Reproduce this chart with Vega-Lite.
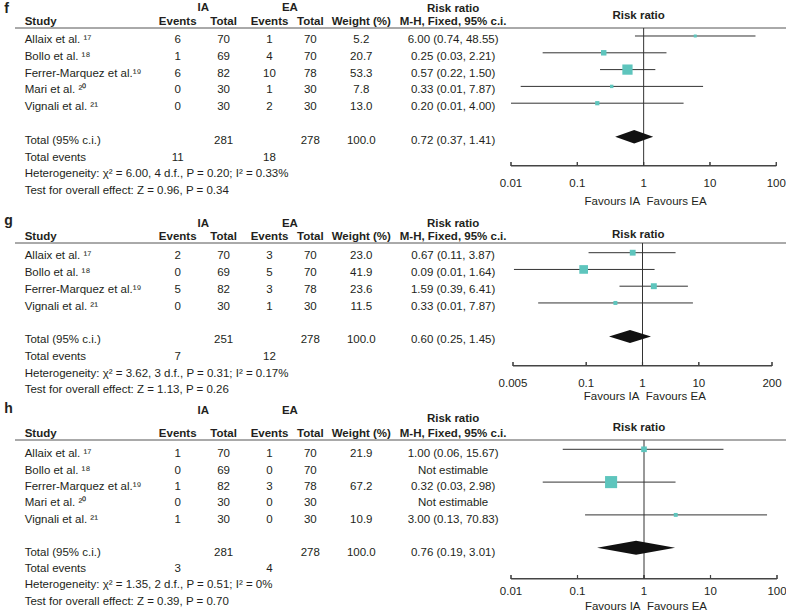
{
"$schema": "https://vega.github.io/schema/vega-lite/v6.json",
"padding": {"left": 2, "top": 1, "right": 0, "bottom": 0},
"background": "white",
"config": {
  "view": {"stroke": null},
  "font": "Liberation Sans",
  "text": {"font": "Liberation Sans", "fontSize": 11.5, "color": "#231f20", "baseline": "middle"}
},
"datasets": {
  "fT": [
    {"r":1,"study":"Allaix et al. ¹⁷","iae":"6","iat":"70","eae":"1","eat":"70","w":"5.2","rr":"6.00 (0.74, 48.55)"},
    {"r":2,"study":"Bollo et al. ¹⁸","iae":"1","iat":"69","eae":"4","eat":"70","w":"20.7","rr":"0.25 (0.03, 2.21)"},
    {"r":3,"study":"Ferrer-Marquez et al.¹⁹","iae":"6","iat":"82","eae":"10","eat":"78","w":"53.3","rr":"0.57 (0.22, 1.50)"},
    {"r":4,"study":"Mari et al. ²⁰","iae":"0","iat":"30","eae":"1","eat":"30","w":"7.8","rr":"0.33 (0.01, 7.87)"},
    {"r":5,"study":"Vignali et al. ²¹","iae":"0","iat":"30","eae":"2","eat":"30","w":"13.0","rr":"0.20 (0.01, 4.00)"},
    {"r":7,"study":"Total (95% c.i.)","iat":"281","eat":"278","w":"100.0","rr":"0.72 (0.37, 1.41)"},
    {"r":8,"study":"Total events","iae":"11","eae":"18"},
    {"r":9,"study":"Heterogeneity: χ² = 6.00, 4 d.f., P = 0.20; I² = 0.33%"},
    {"r":10,"study":"Test for overall effect: Z = 0.96, P = 0.34"}
  ],
  "gT": [
    {"r":1,"study":"Allaix et al. ¹⁷","iae":"2","iat":"70","eae":"3","eat":"70","w":"23.0","rr":"0.67 (0.11, 3.87)"},
    {"r":2,"study":"Bollo et al. ¹⁸","iae":"0","iat":"69","eae":"5","eat":"70","w":"41.9","rr":"0.09 (0.01, 1.64)"},
    {"r":3,"study":"Ferrer-Marquez et al.¹⁹","iae":"5","iat":"82","eae":"3","eat":"78","w":"23.6","rr":"1.59 (0.39, 6.41)"},
    {"r":4,"study":"Vignali et al. ²¹","iae":"0","iat":"30","eae":"1","eat":"30","w":"11.5","rr":"0.33 (0.01, 7.87)"},
    {"r":6,"study":"Total (95% c.i.)","iat":"251","eat":"278","w":"100.0","rr":"0.60 (0.25, 1.45)"},
    {"r":7,"study":"Total events","iae":"7","eae":"12"},
    {"r":8,"study":"Heterogeneity: χ² = 3.62, 3 d.f., P = 0.31; I² = 0.17%"},
    {"r":9,"study":"Test for overall effect: Z = 1.13, P = 0.26"}
  ],
  "hT": [
    {"r":1,"study":"Allaix et al. ¹⁷","iae":"1","iat":"70","eae":"1","eat":"70","w":"21.9","rr":"1.00 (0.06, 15.67)"},
    {"r":2,"study":"Bollo et al. ¹⁸","iae":"0","iat":"69","eae":"0","eat":"70","rr":"Not estimable"},
    {"r":3,"study":"Ferrer-Marquez et al.¹⁹","iae":"1","iat":"82","eae":"3","eat":"78","w":"67.2","rr":"0.32 (0.03, 2.98)"},
    {"r":4,"study":"Mari et al. ²⁰","iae":"0","iat":"30","eae":"0","eat":"30","rr":"Not estimable"},
    {"r":5,"study":"Vignali et al. ²¹","iae":"1","iat":"30","eae":"0","eat":"30","w":"10.9","rr":"3.00 (0.13, 70.83)"},
    {"r":7,"study":"Total (95% c.i.)","iat":"281","eat":"278","w":"100.0","rr":"0.76 (0.19, 3.01)"},
    {"r":8,"study":"Total events","iae":"3","eae":"4"},
    {"r":9,"study":"Heterogeneity: χ² = 1.35, 2 d.f., P = 0.51; I² = 0%"},
    {"r":10,"study":"Test for overall effect: Z = 0.39, P = 0.70"}
  ],
  "fF": [
    {"r":1,"est":6.0,"lo":0.74,"hi":48.55,"w":5.2},
    {"r":2,"est":0.25,"lo":0.03,"hi":2.21,"w":20.7},
    {"r":3,"est":0.57,"lo":0.22,"hi":1.5,"w":53.3},
    {"r":4,"est":0.33,"lo":0.014,"hi":7.87,"w":7.8},
    {"r":5,"est":0.2,"lo":0.01,"hi":4.0,"w":13.0}
  ],
  "gF": [
    {"r":1,"est":0.67,"lo":0.11,"hi":3.87,"w":23.0},
    {"r":2,"est":0.09,"lo":0.0052,"hi":1.64,"w":41.9},
    {"r":3,"est":1.59,"lo":0.39,"hi":6.41,"w":23.6},
    {"r":4,"est":0.33,"lo":0.014,"hi":7.87,"w":11.5}
  ],
  "hF": [
    {"r":1,"est":1.0,"lo":0.06,"hi":15.67,"w":21.9},
    {"r":3,"est":0.32,"lo":0.03,"hi":2.98,"w":67.2},
    {"r":5,"est":3.0,"lo":0.13,"hi":70.83,"w":10.9}
  ],
  "ticksA": [{"v":0.01},{"v":0.1},{"v":1},{"v":10},{"v":100}],
  "ticksB": [{"v":0.005},{"v":0.1},{"v":1},{"v":10},{"v":200}],
  "hdrStudy": [{"r":0,"col":"study","t":"Study"}],
  "hdrSub": [
    {"r":0,"col":"iae","t":"Events"},{"r":0,"col":"iat","t":"Total"},
    {"r":0,"col":"eae","t":"Events"},{"r":0,"col":"eat","t":"Total"},
    {"r":0,"col":"w","t":"Weight (%)"},{"r":0,"col":"rr","t":"M-H, Fixed, 95% c.i."}
  ],
  "hdrIA": [{"r":-1,"col":"ia","t":"IA"},{"r":-1,"col":"ea","t":"EA"}],
  "hdrRR": [{"r":-1,"col":"rr","t":"Risk ratio"}]
},
"spacing": 77,
"bounds": "flush",
"vconcat": [
{
  "width": 786, "height": 138,
  "resolve": {"scale": {"x": "independent"}},
  "layer": [
    {"data": {"values": [{}]}, "mark": {"type": "rule", "color": "#555555", "strokeWidth": 1},
     "encoding": {"x": {"datum": 0, "type": "quantitative", "scale": {"domain": [0, 1], "range": [13, 785], "nice": false, "zero": false}, "axis": null}, "x2": {"datum": 1},
       "y": {"datum": 0.524, "type": "quantitative", "scale": {"domain": [0.524, 8.738], "reverse": true, "nice": false, "zero": false}, "axis": null}}},
    {"layer": [
      {"data": {"name": "fT"}, "transform": [{"fold": ["study"], "as": ["col", "t"]}, {"filter": "isValid(datum.t)"}],
       "mark": {"type": "text", "align": "left", "dy": 4},
       "encoding": {"x": {"field": "col", "type": "nominal", "scale": {"type": "point", "padding": 0, "range": [2.3, 451.1], "domain": ["L","k-3","k-2","k-1","study","k1","k2","k3","k4","k5","k6","k7","k8","k9","k10","k11","k12","k13","k14","k15","k16","k17","k18","k19","k20","k21","k22","k23","k24","k25","k26","k27","k28","k29","iae","k31","k32","k33","k34","ia","k36","k37","k38","iat","k40","k41","k42","k43","k44","k45","k46","k47","eae","k49","k50","k51","ea","k53","k54","k55","eat","k57","k58","k59","k60","k61","k62","k63","k64","k65","w","k67","k68","k69","k70","k71","k72","k73","k74","k75","k76","k77","k78","k79","k80","k81","k82","k83","rr"]}, "axis": null},
         "y": {"field": "r", "type": "quantitative", "scale": {"domain": [0.524, 8.738], "reverse": true, "nice": false, "zero": false}, "axis": null}, "text": {"field": "t"}}},
      {"data": {"name": "fT"}, "transform": [{"fold": ["iae","iat","eae","eat","w","rr"], "as": ["col", "t"]}, {"filter": "isValid(datum.t)"}],
       "mark": {"type": "text", "align": "center", "dy": 4},
       "encoding": {"x": {"field": "col", "type": "nominal", "scale": {"type": "point", "padding": 0, "range": [2.3, 451.1]}, "axis": null}, "y": {"field": "r", "type": "quantitative", "axis": null}, "text": {"field": "t"}}},
      {"data": {"name": "hdrStudy"}, "mark": {"type": "text", "align": "left", "fontWeight": "bold", "dy": 2.8},
       "encoding": {"x": {"field": "col", "type": "nominal", "scale": {"type": "point", "padding": 0, "range": [2.3, 451.1]}, "axis": null}, "y": {"field": "r", "type": "quantitative", "axis": null}, "text": {"field": "t"}}},
      {"data": {"name": "hdrSub"}, "mark": {"type": "text", "align": "center", "fontWeight": "bold", "dy": 2.8},
       "encoding": {"x": {"field": "col", "type": "nominal", "scale": {"type": "point", "padding": 0, "range": [2.3, 451.1]}, "axis": null}, "y": {"field": "r", "type": "quantitative", "axis": null}, "text": {"field": "t"}}},
      {"data": {"name": "hdrIA"}, "mark": {"type": "text", "align": "center", "fontWeight": "bold", "dy": 5.6},
       "encoding": {"x": {"field": "col", "type": "nominal", "scale": {"type": "point", "padding": 0, "range": [2.3, 451.1]}, "axis": null}, "y": {"field": "r", "type": "quantitative", "axis": null}, "text": {"field": "t"}}},
      {"data": {"name": "hdrRR"}, "mark": {"type": "text", "align": "center", "fontWeight": "bold", "dy": 6.3},
       "encoding": {"x": {"field": "col", "type": "nominal", "scale": {"type": "point", "padding": 0, "range": [2.3, 451.1]}, "axis": null}, "y": {"field": "r", "type": "quantitative", "axis": null}, "text": {"field": "t"}}},
      {"data": {"values": [{"r": -1, "col": "L", "t": "f"}]}, "mark": {"type": "text", "align": "left", "fontWeight": "bold", "fontSize": 14, "dy": 6.5},
       "encoding": {"x": {"field": "col", "type": "nominal", "scale": {"type": "point", "padding": 0, "range": [2.3, 451.1]}, "axis": null}, "y": {"field": "r", "type": "quantitative", "axis": null}, "text": {"field": "t"}}}
    ]},
    {"data": {"values": [{}]}, "mark": {"type": "rule", "color": "#444444", "strokeWidth": 1.2},
     "encoding": {"x": {"datum": 0, "type": "quantitative", "scale": {"domain": [0, 1], "range": [509, 774.3], "nice": false, "zero": false}, "axis": null}, "x2": {"datum": 1},
       "y": {"datum": 8.738, "type": "quantitative", "axis": null}}},
    {"data": {"values": [{}]}, "mark": {"type": "rect", "color": "#444444", "opacity": 1},
     "encoding": {"x": {"datum": 0, "type": "quantitative", "scale": {"domain": [0, 1], "range": [509, 774.3], "nice": false, "zero": false}, "axis": null}, "x2": {"datum": 1},
       "y": {"datum": 8.738, "type": "quantitative", "axis": null}, "y2": {"datum": 8.68}}},
    {"data": {"name": "ticksA"}, "mark": {"type": "rule", "color": "#444444", "strokeWidth": 1.2},
     "encoding": {"x": {"field": "v", "type": "quantitative", "scale": {"type": "log", "domain": [0.01, 100], "range": [509, 774.3], "nice": false, "zero": false}, "axis": null},
       "y": {"datum": 8.738, "type": "quantitative", "axis": null}, "y2": {"datum": 8.5}}},
    {"data": {"name": "ticksA"}, "mark": {"type": "tick", "orient": "vertical", "color": "#444444", "opacity": 1, "size": 4, "thickness": 1},
     "encoding": {"x": {"field": "v", "type": "quantitative", "scale": {"type": "log", "domain": [0.01, 100], "range": [509, 774.3], "nice": false, "zero": false}, "axis": null},
       "y": {"datum": 8.619, "type": "quantitative", "axis": null}}},
    {"data": {"name": "ticksA"}, "mark": {"type": "text", "align": "center"},
     "encoding": {"x": {"field": "v", "type": "quantitative", "scale": {"type": "log", "domain": [0.01, 100], "range": [509, 774.3], "nice": false, "zero": false}, "axis": null},
       "y": {"datum": 9.792, "type": "quantitative", "axis": null}, "text": {"field": "v", "type": "quantitative", "format": "~g"}}},
    {"data": {"values": [{}]}, "mark": {"type": "text", "text": "Favours IA\u00a0\u00a0Favours EA", "align": "center"},
     "encoding": {"x": {"datum": 1.07, "type": "quantitative", "scale": {"type": "log", "domain": [0.01, 100], "range": [509, 774.3], "nice": false, "zero": false}, "axis": null},
       "y": {"datum": 10.881, "type": "quantitative", "axis": null}}},
    {"data": {"values": [{}]}, "mark": {"type": "rule", "color": "#333333", "strokeWidth": 1},
     "encoding": {"x": {"datum": 1, "type": "quantitative", "scale": {"type": "log", "domain": [0.01, 100], "range": [509, 774.3], "nice": false, "zero": false}, "axis": null},
       "y": {"datum": 0.524, "type": "quantitative", "axis": null}, "y2": {"datum": 8.738}}},
    {"data": {"name": "fF"}, "mark": {"type": "rule", "color": "#333333", "strokeWidth": 1},
     "encoding": {"x": {"field": "lo", "type": "quantitative", "scale": {"type": "log", "domain": [0.01, 100], "range": [509, 774.3], "nice": false, "zero": false}, "axis": null},
       "x2": {"field": "hi"}, "y": {"field": "r", "type": "quantitative", "axis": null}}},
    {"data": {"name": "fF"}, "mark": {"type": "point", "shape": "square", "filled": true, "color": "#5ec5bd", "opacity": 1, "strokeWidth": 0},
     "encoding": {"x": {"field": "est", "type": "quantitative", "scale": {"type": "log", "domain": [0.01, 100], "range": [509, 774.3], "nice": false, "zero": false}, "axis": null},
       "y": {"field": "r", "type": "quantitative", "axis": null},
       "size": {"field": "w", "type": "quantitative", "scale": {"type": "pow", "exponent": 1.5, "domain": [0, 100], "range": [6, 260]}, "legend": null}}},
    {"data": {"values": [{"r": 7, "est": 0.72}]}, "mark": {"type": "point", "shape": "M-1,0L0,-0.353L1,0L0,0.353Z", "filled": true, "color": "#111111", "opacity": 1, "size": 1444, "strokeWidth": 0},
     "encoding": {"x": {"field": "est", "type": "quantitative", "scale": {"type": "log", "domain": [0.01, 100], "range": [509, 774.3], "nice": false, "zero": false}, "axis": null},
       "y": {"field": "r", "type": "quantitative", "axis": null}}},
    {"data": {"values": [{}]}, "mark": {"type": "text", "text": "Risk ratio", "fontWeight": "bold", "align": "center", "dy": 1},
     "encoding": {"x": {"datum": 0.84, "type": "quantitative", "scale": {"type": "log", "domain": [0.01, 100], "range": [509, 774.3], "nice": false, "zero": false}, "axis": null},
       "y": {"datum": -0.25, "type": "quantitative", "axis": null}}}
  ]
},
{
  "width": 786, "height": 120,
  "resolve": {"scale": {"x": "independent"}},
  "layer": [
    {"data": {"values": [{}]}, "mark": {"type": "rule", "color": "#555555", "strokeWidth": 1},
     "encoding": {"x": {"datum": 0, "type": "quantitative", "scale": {"domain": [0, 1], "range": [13, 785], "nice": false, "zero": false}, "axis": null}, "x2": {"datum": 1},
       "y": {"datum": 0.421, "type": "quantitative", "scale": {"domain": [0.421, 7.585], "reverse": true, "nice": false, "zero": false}, "axis": null}}},
    {"layer": [
      {"data": {"name": "gT"}, "transform": [{"fold": ["study"], "as": ["col", "t"]}, {"filter": "isValid(datum.t)"}],
       "mark": {"type": "text", "align": "left", "dy": 3.6},
       "encoding": {"x": {"field": "col", "type": "nominal", "scale": {"type": "point", "padding": 0, "range": [2.3, 451.1], "domain": ["L","k-3","k-2","k-1","study","k1","k2","k3","k4","k5","k6","k7","k8","k9","k10","k11","k12","k13","k14","k15","k16","k17","k18","k19","k20","k21","k22","k23","k24","k25","k26","k27","k28","k29","iae","k31","k32","k33","k34","ia","k36","k37","k38","iat","k40","k41","k42","k43","k44","k45","k46","k47","eae","k49","k50","k51","ea","k53","k54","k55","eat","k57","k58","k59","k60","k61","k62","k63","k64","k65","w","k67","k68","k69","k70","k71","k72","k73","k74","k75","k76","k77","k78","k79","k80","k81","k82","k83","rr"]}, "axis": null},
         "y": {"field": "r", "type": "quantitative", "scale": {"domain": [0.421, 7.585], "reverse": true, "nice": false, "zero": false}, "axis": null}, "text": {"field": "t"}}},
      {"data": {"name": "gT"}, "transform": [{"fold": ["iae","iat","eae","eat","w","rr"], "as": ["col", "t"]}, {"filter": "isValid(datum.t)"}],
       "mark": {"type": "text", "align": "center", "dy": 3.6},
       "encoding": {"x": {"field": "col", "type": "nominal", "scale": {"type": "point", "padding": 0, "range": [2.3, 451.1]}, "axis": null}, "y": {"field": "r", "type": "quantitative", "axis": null}, "text": {"field": "t"}}},
      {"data": {"name": "hdrStudy"}, "mark": {"type": "text", "align": "left", "fontWeight": "bold", "dy": 1},
       "encoding": {"x": {"field": "col", "type": "nominal", "scale": {"type": "point", "padding": 0, "range": [2.3, 451.1]}, "axis": null}, "y": {"field": "r", "type": "quantitative", "axis": null}, "text": {"field": "t"}}},
      {"data": {"name": "hdrSub"}, "mark": {"type": "text", "align": "center", "fontWeight": "bold", "dy": 1},
       "encoding": {"x": {"field": "col", "type": "nominal", "scale": {"type": "point", "padding": 0, "range": [2.3, 451.1]}, "axis": null}, "y": {"field": "r", "type": "quantitative", "axis": null}, "text": {"field": "t"}}},
      {"data": {"name": "hdrIA"}, "mark": {"type": "text", "align": "center", "fontWeight": "bold", "dy": 4.5},
       "encoding": {"x": {"field": "col", "type": "nominal", "scale": {"type": "point", "padding": 0, "range": [2.3, 451.1]}, "axis": null}, "y": {"field": "r", "type": "quantitative", "axis": null}, "text": {"field": "t"}}},
      {"data": {"name": "hdrRR"}, "mark": {"type": "text", "align": "center", "fontWeight": "bold", "dy": 4.5},
       "encoding": {"x": {"field": "col", "type": "nominal", "scale": {"type": "point", "padding": 0, "range": [2.3, 451.1]}, "axis": null}, "y": {"field": "r", "type": "quantitative", "axis": null}, "text": {"field": "t"}}},
      {"data": {"values": [{"r": -1, "col": "L", "t": "g"}]}, "mark": {"type": "text", "align": "left", "fontWeight": "bold", "fontSize": 14, "dy": 1.8},
       "encoding": {"x": {"field": "col", "type": "nominal", "scale": {"type": "point", "padding": 0, "range": [2.3, 451.1]}, "axis": null}, "y": {"field": "r", "type": "quantitative", "axis": null}, "text": {"field": "t"}}}
    ]},
    {"data": {"values": [{}]}, "mark": {"type": "rule", "color": "#444444", "strokeWidth": 1.2},
     "encoding": {"x": {"datum": 0, "type": "quantitative", "scale": {"domain": [0, 1], "range": [511, 770], "nice": false, "zero": false}, "axis": null}, "x2": {"datum": 1},
       "y": {"datum": 7.764, "type": "quantitative", "axis": null}}},
    {"data": {"values": [{}]}, "mark": {"type": "rect", "color": "#444444", "opacity": 1},
     "encoding": {"x": {"datum": 0, "type": "quantitative", "scale": {"domain": [0, 1], "range": [511, 770], "nice": false, "zero": false}, "axis": null}, "x2": {"datum": 1},
       "y": {"datum": 7.764, "type": "quantitative", "axis": null}, "y2": {"datum": 7.705}}},
    {"data": {"name": "ticksB"}, "mark": {"type": "rule", "color": "#444444", "strokeWidth": 1.2},
     "encoding": {"x": {"field": "v", "type": "quantitative", "scale": {"type": "log", "domain": [0.005, 200], "range": [511, 770], "nice": false, "zero": false}, "axis": null},
       "y": {"datum": 7.764, "type": "quantitative", "axis": null}, "y2": {"datum": 7.525}}},
    {"data": {"name": "ticksB"}, "mark": {"type": "tick", "orient": "vertical", "color": "#444444", "opacity": 1, "size": 4, "thickness": 1},
     "encoding": {"x": {"field": "v", "type": "quantitative", "scale": {"type": "log", "domain": [0.005, 200], "range": [511, 770], "nice": false, "zero": false}, "axis": null},
       "y": {"datum": 7.645, "type": "quantitative", "axis": null}}},
    {"data": {"name": "ticksB"}, "mark": {"type": "text", "align": "center"},
     "encoding": {"x": {"field": "v", "type": "quantitative", "scale": {"type": "log", "domain": [0.005, 200], "range": [511, 770], "nice": false, "zero": false}, "axis": null},
       "y": {"datum": 8.821, "type": "quantitative", "axis": null}, "text": {"field": "v", "type": "quantitative", "format": "~g"}}},
    {"data": {"values": [{}]}, "mark": {"type": "text", "text": "Favours IA\u00a0\u00a0Favours EA", "align": "center"},
     "encoding": {"x": {"datum": 1.1, "type": "quantitative", "scale": {"type": "log", "domain": [0.005, 200], "range": [511, 770], "nice": false, "zero": false}, "axis": null},
       "y": {"datum": 9.615, "type": "quantitative", "axis": null}}},
    {"data": {"values": [{}]}, "mark": {"type": "rule", "color": "#333333", "strokeWidth": 1},
     "encoding": {"x": {"datum": 1, "type": "quantitative", "scale": {"type": "log", "domain": [0.005, 200], "range": [511, 770], "nice": false, "zero": false}, "axis": null},
       "y": {"datum": 0.421, "type": "quantitative", "axis": null}, "y2": {"datum": 7.764}}},
    {"data": {"name": "gF"}, "mark": {"type": "rule", "color": "#333333", "strokeWidth": 1},
     "encoding": {"x": {"field": "lo", "type": "quantitative", "scale": {"type": "log", "domain": [0.005, 200], "range": [511, 770], "nice": false, "zero": false}, "axis": null},
       "x2": {"field": "hi"}, "y": {"field": "r", "type": "quantitative", "axis": null}}},
    {"data": {"name": "gF"}, "mark": {"type": "point", "shape": "square", "filled": true, "color": "#5ec5bd", "opacity": 1, "strokeWidth": 0},
     "encoding": {"x": {"field": "est", "type": "quantitative", "scale": {"type": "log", "domain": [0.005, 200], "range": [511, 770], "nice": false, "zero": false}, "axis": null},
       "y": {"field": "r", "type": "quantitative", "axis": null},
       "size": {"field": "w", "type": "quantitative", "scale": {"type": "pow", "exponent": 1.5, "domain": [0, 100], "range": [6, 240]}, "legend": null}}},
    {"data": {"values": [{"r": 6, "est": 0.6}]}, "mark": {"type": "point", "shape": "M-1,0L0,-0.31L1,0L0,0.31Z", "filled": true, "color": "#111111", "opacity": 1, "size": 1764, "strokeWidth": 0},
     "encoding": {"x": {"field": "est", "type": "quantitative", "scale": {"type": "log", "domain": [0.005, 200], "range": [511, 770], "nice": false, "zero": false}, "axis": null},
       "y": {"field": "r", "type": "quantitative", "axis": null}}},
    {"data": {"values": [{}]}, "mark": {"type": "text", "text": "Risk ratio", "fontWeight": "bold", "align": "center", "dy": 1},
     "encoding": {"x": {"datum": 0.84, "type": "quantitative", "scale": {"type": "log", "domain": [0.005, 200], "range": [511, 770], "nice": false, "zero": false}, "axis": null},
       "y": {"datum": -0.1, "type": "quantitative", "axis": null}}}
  ]
},
{
  "width": 786, "height": 139,
  "resolve": {"scale": {"x": "independent"}},
  "layer": [
    {"data": {"values": [{}]}, "mark": {"type": "rule", "color": "#555555", "strokeWidth": 1},
     "encoding": {"x": {"datum": 0, "type": "quantitative", "scale": {"domain": [0, 1], "range": [13, 785], "nice": false, "zero": false}, "axis": null}, "x2": {"datum": 1},
       "y": {"datum": 0.433, "type": "quantitative", "scale": {"domain": [0.433, 8.909], "reverse": true, "nice": false, "zero": false}, "axis": null}}},
    {"layer": [
      {"data": {"name": "hT"}, "transform": [{"fold": ["study"], "as": ["col", "t"]}, {"filter": "isValid(datum.t)"}],
       "mark": {"type": "text", "align": "left", "dy": 5},
       "encoding": {"x": {"field": "col", "type": "nominal", "scale": {"type": "point", "padding": 0, "range": [2.3, 451.1], "domain": ["L","k-3","k-2","k-1","study","k1","k2","k3","k4","k5","k6","k7","k8","k9","k10","k11","k12","k13","k14","k15","k16","k17","k18","k19","k20","k21","k22","k23","k24","k25","k26","k27","k28","k29","iae","k31","k32","k33","k34","ia","k36","k37","k38","iat","k40","k41","k42","k43","k44","k45","k46","k47","eae","k49","k50","k51","ea","k53","k54","k55","eat","k57","k58","k59","k60","k61","k62","k63","k64","k65","w","k67","k68","k69","k70","k71","k72","k73","k74","k75","k76","k77","k78","k79","k80","k81","k82","k83","rr"]}, "axis": null},
         "y": {"field": "r", "type": "quantitative", "scale": {"domain": [0.433, 8.909], "reverse": true, "nice": false, "zero": false}, "axis": null}, "text": {"field": "t"}}},
      {"data": {"name": "hT"}, "transform": [{"fold": ["iae","iat","eae","eat","w","rr"], "as": ["col", "t"]}, {"filter": "isValid(datum.t)"}],
       "mark": {"type": "text", "align": "center", "dy": 5},
       "encoding": {"x": {"field": "col", "type": "nominal", "scale": {"type": "point", "padding": 0, "range": [2.3, 451.1]}, "axis": null}, "y": {"field": "r", "type": "quantitative", "axis": null}, "text": {"field": "t"}}},
      {"data": {"name": "hdrStudy"}, "mark": {"type": "text", "align": "left", "fontWeight": "bold", "dy": 0.8},
       "encoding": {"x": {"field": "col", "type": "nominal", "scale": {"type": "point", "padding": 0, "range": [2.3, 451.1]}, "axis": null}, "y": {"field": "r", "type": "quantitative", "axis": null}, "text": {"field": "t"}}},
      {"data": {"name": "hdrSub"}, "mark": {"type": "text", "align": "center", "fontWeight": "bold", "dy": 0.8},
       "encoding": {"x": {"field": "col", "type": "nominal", "scale": {"type": "point", "padding": 0, "range": [2.3, 451.1]}, "axis": null}, "y": {"field": "r", "type": "quantitative", "axis": null}, "text": {"field": "t"}}},
      {"data": {"name": "hdrIA"}, "mark": {"type": "text", "align": "center", "fontWeight": "bold", "dy": -5.5},
       "encoding": {"x": {"field": "col", "type": "nominal", "scale": {"type": "point", "padding": 0, "range": [2.3, 451.1]}, "axis": null}, "y": {"field": "r", "type": "quantitative", "axis": null}, "text": {"field": "t"}}},
      {"data": {"name": "hdrRR"}, "mark": {"type": "text", "align": "center", "fontWeight": "bold", "dy": 2.8},
       "encoding": {"x": {"field": "col", "type": "nominal", "scale": {"type": "point", "padding": 0, "range": [2.3, 451.1]}, "axis": null}, "y": {"field": "r", "type": "quantitative", "axis": null}, "text": {"field": "t"}}},
      {"data": {"values": [{"r": -1, "col": "L", "t": "h"}]}, "mark": {"type": "text", "align": "left", "fontWeight": "bold", "fontSize": 14, "dy": -7.2},
       "encoding": {"x": {"field": "col", "type": "nominal", "scale": {"type": "point", "padding": 0, "range": [2.3, 451.1]}, "axis": null}, "y": {"field": "r", "type": "quantitative", "axis": null}, "text": {"field": "t"}}}
    ]},
    {"data": {"values": [{}]}, "mark": {"type": "rule", "color": "#444444", "strokeWidth": 1.2},
     "encoding": {"x": {"datum": 0, "type": "quantitative", "scale": {"domain": [0, 1], "range": [509, 775], "nice": false, "zero": false}, "axis": null}, "x2": {"datum": 1},
       "y": {"datum": 8.909, "type": "quantitative", "axis": null}}},
    {"data": {"values": [{}]}, "mark": {"type": "rect", "color": "#444444", "opacity": 1},
     "encoding": {"x": {"datum": 0, "type": "quantitative", "scale": {"domain": [0, 1], "range": [509, 775], "nice": false, "zero": false}, "axis": null}, "x2": {"datum": 1},
       "y": {"datum": 8.909, "type": "quantitative", "axis": null}, "y2": {"datum": 8.85}}},
    {"data": {"name": "ticksA"}, "mark": {"type": "rule", "color": "#444444", "strokeWidth": 1.2},
     "encoding": {"x": {"field": "v", "type": "quantitative", "scale": {"type": "log", "domain": [0.01, 100], "range": [509, 775], "nice": false, "zero": false}, "axis": null},
       "y": {"datum": 8.909, "type": "quantitative", "axis": null}, "y2": {"datum": 8.665}}},
    {"data": {"name": "ticksA"}, "mark": {"type": "tick", "orient": "vertical", "color": "#444444", "opacity": 1, "size": 4, "thickness": 1},
     "encoding": {"x": {"field": "v", "type": "quantitative", "scale": {"type": "log", "domain": [0.01, 100], "range": [509, 775], "nice": false, "zero": false}, "axis": null},
       "y": {"datum": 8.787, "type": "quantitative", "axis": null}}},
    {"data": {"name": "ticksA"}, "mark": {"type": "text", "align": "center"},
     "encoding": {"x": {"field": "v", "type": "quantitative", "scale": {"type": "log", "domain": [0.01, 100], "range": [509, 775], "nice": false, "zero": false}, "axis": null},
       "y": {"datum": 9.701, "type": "quantitative", "axis": null}, "text": {"field": "v", "type": "quantitative", "format": "~g"}}},
    {"data": {"values": [{}]}, "mark": {"type": "text", "text": "Favours IA\u00a0\u00a0Favours EA", "align": "center"},
     "encoding": {"x": {"datum": 1.07, "type": "quantitative", "scale": {"type": "log", "domain": [0.01, 100], "range": [509, 775], "nice": false, "zero": false}, "axis": null},
       "y": {"datum": 10.616, "type": "quantitative", "axis": null}}},
    {"data": {"values": [{}]}, "mark": {"type": "rule", "color": "#333333", "strokeWidth": 1},
     "encoding": {"x": {"datum": 1, "type": "quantitative", "scale": {"type": "log", "domain": [0.01, 100], "range": [509, 775], "nice": false, "zero": false}, "axis": null},
       "y": {"datum": 0.433, "type": "quantitative", "axis": null}, "y2": {"datum": 8.909}}},
    {"data": {"name": "hF"}, "mark": {"type": "rule", "color": "#333333", "strokeWidth": 1},
     "encoding": {"x": {"field": "lo", "type": "quantitative", "scale": {"type": "log", "domain": [0.01, 100], "range": [509, 775], "nice": false, "zero": false}, "axis": null},
       "x2": {"field": "hi"}, "y": {"field": "r", "type": "quantitative", "axis": null}}},
    {"data": {"name": "hF"}, "mark": {"type": "point", "shape": "square", "filled": true, "color": "#5ec5bd", "opacity": 1, "strokeWidth": 0},
     "encoding": {"x": {"field": "est", "type": "quantitative", "scale": {"type": "log", "domain": [0.01, 100], "range": [509, 775], "nice": false, "zero": false}, "axis": null},
       "y": {"field": "r", "type": "quantitative", "axis": null},
       "size": {"field": "w", "type": "quantitative", "scale": {"type": "pow", "exponent": 1.5, "domain": [0, 100], "range": [6, 320]}, "legend": null}}},
    {"data": {"values": [{"r": 7, "est": 0.76}]}, "mark": {"type": "point", "shape": "M-1,0L0,-0.18L1,0L0,0.18Z", "filled": true, "color": "#111111", "opacity": 1, "size": 6084, "strokeWidth": 0},
     "encoding": {"x": {"field": "est", "type": "quantitative", "scale": {"type": "log", "domain": [0.01, 100], "range": [509, 775], "nice": false, "zero": false}, "axis": null},
       "y": {"field": "r", "type": "quantitative", "axis": null}}},
    {"data": {"values": [{}]}, "mark": {"type": "text", "text": "Risk ratio", "fontWeight": "bold", "align": "center", "dy": 1},
     "encoding": {"x": {"datum": 0.84, "type": "quantitative", "scale": {"type": "log", "domain": [0.01, 100], "range": [509, 775], "nice": false, "zero": false}, "axis": null},
       "y": {"datum": -0.36, "type": "quantitative", "axis": null}}}
  ]
}
]
}
